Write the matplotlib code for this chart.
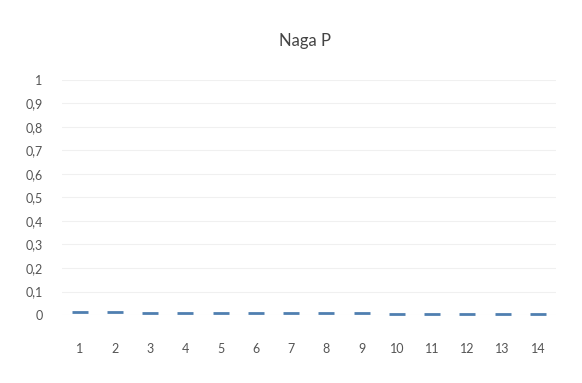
import matplotlib
matplotlib.use("Agg")
import matplotlib.pyplot as plt

categories = [str(i) for i in range(1, 15)]
values = [0.012, 0.011, 0.010, 0.010, 0.009, 0.008, 0.008, 0.007, 0.007, 0.006, 0.006, 0.005, 0.005, 0.004]
yticks = [0, 0.1, 0.2, 0.3, 0.4, 0.5, 0.6, 0.7, 0.8, 0.9, 1]
ylabels = ["0", "0,1", "0,2", "0,3", "0,4", "0,5", "0,6", "0,7", "0,8", "0,9", "1"]
title = "Naga P"

plt.rcParams['font.family'] = ['Lato', 'DejaVu Sans']
fig = plt.figure(figsize=(5.82, 3.83), dpi=100)
ax = fig.add_axes([0.1065, 0.1775, 0.848, 0.614])
x = list(range(len(categories)))
ax.plot(x, values, linestyle='none', marker='_', markersize=11, markeredgewidth=2, color='#4f7fb0')
ax.set_xlim(-0.5, len(categories) - 0.5)
ax.set_ylim(0, 1)
ax.set_yticks(yticks)
ax.set_yticklabels(ylabels)
ax.set_xticks(x)
ax.set_xticklabels(categories)
ax.grid(axis='y', color='#f0f0f0', linewidth=0.8)
ax.set_axisbelow(True)
for s in ax.spines.values():
    s.set_visible(False)
ax.tick_params(length=0, labelsize=9, colors='#555555')
ax.tick_params(axis='y', pad=14)
ax.tick_params(axis='x', pad=20)
fig.text(0.524, 0.892, title, ha='center', va='center', fontsize=12, color='#444444')
fig.savefig("out.png", dpi=100, facecolor='white')
